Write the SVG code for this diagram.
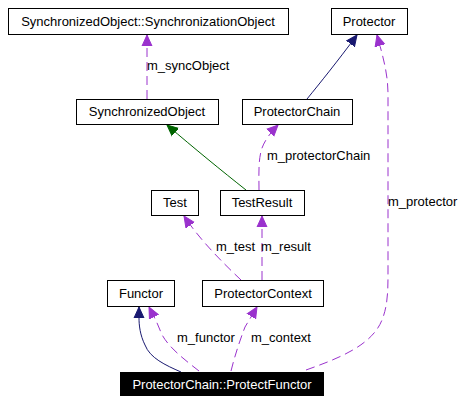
<svg xmlns="http://www.w3.org/2000/svg" width="467" height="403" viewBox="0 0 467 403">
<style>
.box{fill:#fff;stroke:#000;stroke-width:1}
.t{font-family:"Liberation Sans",Arial,sans-serif;font-size:13px;fill:#000;text-anchor:middle}
.lbl{font-family:"Liberation Sans",Arial,sans-serif;font-size:13px;fill:#000}
.use{fill:none;stroke:#9a32cd;stroke-width:1;stroke-dasharray:9,5}
.inh{fill:none;stroke:#191970;stroke-width:1}
.grn{fill:none;stroke:#006400;stroke-width:1}
</style>
<defs>
<marker id="aP" markerUnits="userSpaceOnUse" markerWidth="14" markerHeight="12" refX="11" refY="6" orient="auto" viewBox="0 0 14 12"><path d="M0,1 L11,6 L0,11 z" fill="#9a32cd" stroke="#9a32cd" stroke-dasharray="none"/></marker>
<marker id="aN" markerUnits="userSpaceOnUse" markerWidth="14" markerHeight="12" refX="11" refY="6" orient="auto" viewBox="0 0 14 12"><path d="M0,1 L11,6 L0,11 z" fill="#191970" stroke="#191970"/></marker>
<marker id="aG" markerUnits="userSpaceOnUse" markerWidth="14" markerHeight="12" refX="11" refY="6" orient="auto" viewBox="0 0 14 12"><path d="M0,1 L11,6 L0,11 z" fill="#006400" stroke="#006400"/></marker>
</defs>
<rect width="467" height="403" fill="#fff"/>
<g id="connectors">
<path class="use" d="M147,99 L147,35" marker-end="url(#aP)"/>
<path class="inh" d="M307,99 C320,83 337,62 357,35" marker-end="url(#aN)"/>
<path class="grn" d="M246,190 C222,171 195,149 167,125" marker-end="url(#aG)"/>
<path class="use" d="M259,190 C259,175 258,160 262,148 C265,140 271,132 278,125" marker-end="url(#aP)"/>
<path class="use" d="M306,370 C340,358 372,345 382,320 C388,305 388,290 388,270 L388,95 C388,75 384,60 377,35" marker-end="url(#aP)"/>
<path class="use" d="M241,280 C222,262 200,240 184,216" marker-end="url(#aP)"/>
<path class="use" d="M262,280 L262,216" marker-end="url(#aP)"/>
<path class="inh" d="M181,372 C165,365 150,358 145,345 C140,335 139,325 139,318 L139,307" marker-end="url(#aN)"/>
<path class="use" d="M199,371 C185,360 165,345 160,330 C157,322 153,315 149,307" marker-end="url(#aP)"/>
<path class="use" d="M231,371 C235,355 240,340 245,327 L257,307" marker-end="url(#aP)"/>
<text class="lbl" x="147" y="70">m_syncObject</text>
<text class="lbl" x="267" y="160">m_protectorChain</text>
<text class="lbl" x="388" y="206">m_protector</text>
<text class="lbl" x="216" y="251">m_test</text>
<text class="lbl" x="261" y="251">m_result</text>
<text class="lbl" x="177" y="342">m_functor</text>
<text class="lbl" x="251" y="342">m_context</text>
</g>
<g id="SyncObject"><rect class="box" x="8.5" y="8.5" width="280" height="26"/><text class="t" x="148" y="26">SynchronizedObject::SynchronizationObject</text></g>
<g id="Protector"><rect class="box" x="331.5" y="8.5" width="76" height="26"/><text class="t" x="369" y="26">Protector</text></g>
<g id="SynchronizedObject"><rect class="box" x="76.5" y="99.5" width="142" height="25"/><text class="t" x="147" y="116">SynchronizedObject</text></g>
<g id="ProtectorChain"><rect class="box" x="242.5" y="99.5" width="110" height="25"/><text class="t" x="297" y="116">ProtectorChain</text></g>
<g id="Test"><rect class="box" x="151.5" y="190.5" width="47" height="25"/><text class="t" x="175" y="207">Test</text></g>
<g id="TestResult"><rect class="box" x="220.5" y="190.5" width="84" height="25"/><text class="t" x="262" y="207">TestResult</text></g>
<g id="Functor"><rect class="box" x="107.5" y="280.5" width="67" height="26"/><text class="t" x="141" y="298">Functor</text></g>
<g id="ProtectorContext"><rect class="box" x="202.5" y="280.5" width="121" height="26"/><text class="t" x="263" y="298">ProtectorContext</text></g>
<g id="ProtectFunctor"><rect x="120" y="372" width="204" height="24" fill="#000"/><text class="t" x="222" y="389" style="fill:#fff">ProtectorChain::ProtectFunctor</text></g>
</svg>
